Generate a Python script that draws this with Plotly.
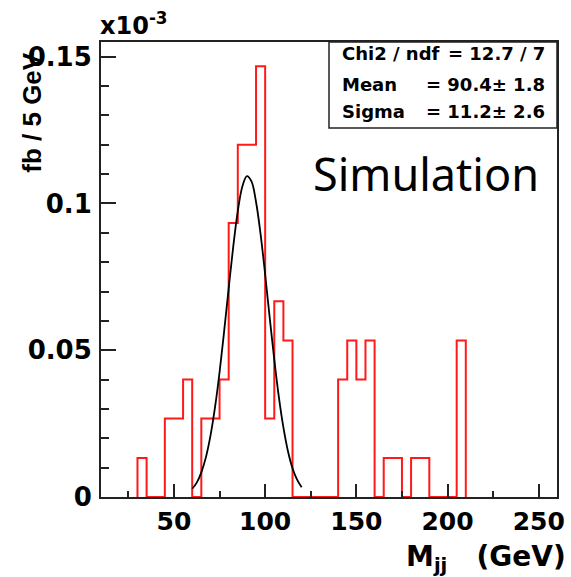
"""
Dijet invariant mass (M_jj) histogram with Gaussian fit, ROOT-style.
"""
import plotly.graph_objects as go

# Histogram: left edges of 5 GeV bins and contents (x10^-3 fb / 5 GeV)
bin_lo = [30, 35, 40, 45, 50, 55, 60, 65, 70, 75, 80, 85, 90, 95, 100,
          105, 110, 115, 120, 125, 130, 135, 140, 145, 150, 155, 160,
          165, 170, 175, 180, 185, 190, 195, 200, 205]
bin_val = [0.0133, 0, 0, 0.0267, 0.0267, 0.04, 0, 0.0267, 0.0267, 0.04,
           0.0933, 0.12, 0.12, 0.1467, 0.0267, 0.0667, 0.0533, 0, 0, 0,
           0, 0, 0.04, 0.0533, 0.04, 0.0533, 0, 0.0133, 0.0133, 0,
           0.0133, 0.0133, 0, 0, 0, 0.0533]
bin_width = 5

# Gaussian fit curve
fit_x = [60, 62.5, 65, 67.5, 70, 72.5, 75, 77.5, 80, 82.5, 85, 87.5, 90,
         92.5, 95, 97.5, 100, 102.5, 105, 107.5, 110, 112.5, 115, 117.5, 120]
fit_y = [0.0028, 0.0049, 0.0084, 0.0135, 0.0208, 0.0305, 0.0425, 0.0564,
         0.0711, 0.0853, 0.0974, 0.1058, 0.1093, 0.1075, 0.1005, 0.0895,
         0.0758, 0.0610, 0.0468, 0.0341, 0.0237, 0.0156, 0.0098, 0.0059,
         0.0033]

# Fit statistics box
stat_labels = ['Chi2 / ndf', 'Mean', 'Sigma']
stat_values = ['= 12.7 / 7', '= 90.4\u00b1 1.8', '= 11.2\u00b1 2.6']

x_ticks = [50, 100, 150, 200, 250]
y_ticks = [0, 0.05, 0.1, 0.15]

BOLD = dict(family='DejaVu Sans', color='black', weight='bold')

# Step outline (no inner lines between equal bins)
step_x = [bin_lo[0]] + bin_lo + [bin_lo[-1] + bin_width]
step_y = [0] + bin_val + [0]

fig = go.Figure()
fig.add_trace(go.Scatter(
    x=step_x, y=step_y, mode='lines', line_shape='hv',
    line=dict(color='#ff1a1a', width=2), hoverinfo='skip'
))
fig.add_trace(go.Scatter(
    x=fit_x, y=fit_y, mode='lines', line_shape='spline',
    line=dict(color='black', width=1.8), hoverinfo='skip'
))

fig.update_layout(
    width=571, height=577,
    margin=dict(l=101, r=6, t=42, b=80),
    paper_bgcolor='white', plot_bgcolor='white',
    showlegend=False,
)

fig.update_xaxes(
    range=[10, 260], tickvals=x_ticks,
    showgrid=False, zeroline=False,
    showline=True, mirror=True, linecolor='#222', linewidth=2,
    ticks='inside', ticklen=13, tickwidth=2, tickcolor='#222',
    minor=dict(dtick=25, tick0=0, ticks='inside', ticklen=6,
               tickwidth=2, tickcolor='#222'),
    tickfont=dict(size=25, **BOLD), ticklabelstandoff=1,
)
fig.update_yaxes(
    range=[0, 0.155], tickvals=y_ticks,
    showgrid=False, zeroline=False,
    showline=True, mirror=True, linecolor='#222', linewidth=2,
    ticks='inside', ticklen=15, tickwidth=2, tickcolor='#222',
    minor=dict(dtick=0.01, tick0=0, ticks='inside', ticklen=8,
               tickwidth=2, tickcolor='#222'),
    tickfont=dict(size=26, **BOLD), ticklabelstandoff=2,
)

# Axis titles and exponent
fig.add_annotation(
    text='fb / 5 GeV', textangle=-90, showarrow=False,
    xref='paper', yref='paper', x=-0.153, y=0.845,
    xanchor='center', yanchor='middle',
    font=dict(family='Liberation Sans', size=26, color='black', weight='bold'),
)
fig.add_annotation(
    text='x10<sup>-3</sup>', showarrow=False,
    xref='paper', yref='paper', x=-0.006, y=1.0,
    xanchor='left', yanchor='bottom',
    font=dict(size=24, **BOLD),
)
fig.add_annotation(
    text='M<sub>jj</sub>&nbsp;&nbsp;&nbsp;(GeV)', showarrow=False,
    xref='paper', yref='paper', x=1.025, y=-0.135,
    xanchor='right', yanchor='middle',
    font=dict(size=28, **BOLD),
)

# Stats box
fig.add_shape(type='rect', xref='paper', yref='paper',
              x0=0.5, x1=1.0, y0=0.811, y1=1.0,
              line=dict(color='#222', width=1.5), fillcolor='white')
line_y = [0.975, 0.907, 0.847]
for lbl, val, yy in zip(stat_labels, stat_values, line_y):
    fig.add_annotation(text=lbl, showarrow=False, xref='paper', yref='paper',
                       x=0.524, y=yy, xanchor='left', yanchor='middle',
                       font=dict(size=18, **BOLD))
    fig.add_annotation(text=val, showarrow=False, xref='paper', yref='paper',
                       x=0.978, y=yy, xanchor='right', yanchor='middle',
                       font=dict(size=18, **BOLD))

fig.add_annotation(
    text='Simulation', showarrow=False,
    xref='paper', yref='paper', x=0.713, y=0.71,
    xanchor='center', yanchor='middle',
    font=dict(family='Noto Sans', size=45, color='black'),
)

# drop the default 8px page margin so the figure sits at the window origin
fig.write_html("out.html", config={'displayModeBar': False},
               post_script="document.body.style.margin='0';")
